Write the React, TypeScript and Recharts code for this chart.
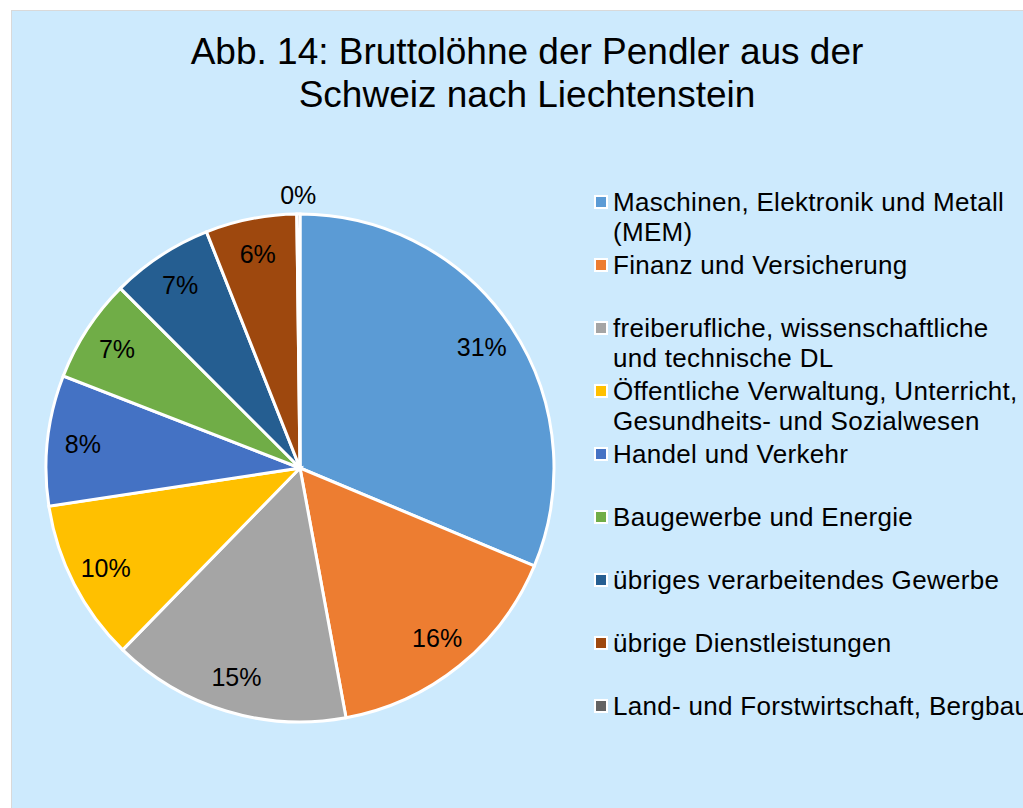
import React from 'react';
import { PieChart, Pie, Cell, Legend } from 'recharts';

// Branches (legend order = slice order, clockwise from 12 o'clock)
const categories = [
  'Maschinen, Elektronik und Metall\n(MEM)',
  'Finanz und Versicherung',
  'freiberufliche, wissenschaftliche\nund technische DL',
  'Öffentliche Verwaltung, Unterricht,\nGesundheits- und Sozialwesen',
  'Handel und Verkehr',
  'Baugewerbe und Energie',
  'übriges verarbeitendes Gewerbe',
  'übrige Dienstleistungen',
  'Land- und Forstwirtschaft, Bergbau',
];

// share of gross wages, in percent
const shares = [31.3, 15.8, 15.2, 10.3, 8.3, 6.6, 6.5, 5.8, 0.2];

const colors = [
  '#5B9BD5',
  '#ED7D31',
  '#A5A5A5',
  '#FFC000',
  '#4472C4',
  '#70AD47',
  '#255E91',
  '#9E480E',
  '#636363',
];

const titleLines = ['Abb. 14: Bruttolöhne der Pendler aus der', 'Schweiz nach Liechtenstein'];

const FONT = '"Liberation Sans", Arial, sans-serif';
const RAD = Math.PI / 180;

function renderLabel(props: any) {
  const { cx, cy, midAngle, outerRadius, percent } = props;
  const small = percent < 0.01;
  const r = small ? outerRadius + 19 : outerRadius * 0.86;
  const x = cx + r * Math.cos(-midAngle * RAD);
  const y = cy + r * Math.sin(-midAngle * RAD);
  return (
    <text
      x={x}
      y={y}
      textAnchor="middle"
      dominantBaseline="central"
      fill="#000"
      fontSize={25}
      fontFamily={FONT}
    >
      {`${Math.round(percent * 100)}%`}
    </text>
  );
}

function LegendBox() {
  return (
    <div style={{ fontFamily: FONT, fontSize: 26, letterSpacing: '0.3px', color: '#000' }}>
      {categories.map((name, i) => (
        <div key={name} style={{ position: 'relative', height: 63 }}>
          <span
            style={{
              position: 'absolute',
              left: 0,
              top: 8,
              width: 10,
              height: 10,
              background: colors[i],
              border: '2px solid #fff',
            }}
          />
          <div
            style={{
              position: 'absolute',
              left: 19,
              top: 0,
              whiteSpace: 'pre',
              lineHeight: '30px',
            }}
          >
            {name}
          </div>
        </div>
      ))}
    </div>
  );
}

export default function App() {
  const data = categories.map((name, i) => ({ name, value: shares[i] }));

  return (
    <div
      style={{
        position: 'absolute',
        left: 0,
        top: 0,
        width: 1023,
        height: 808,
        overflow: 'hidden',
        background: '#fff',
      }}
    >
      <div
        style={{
          position: 'absolute',
          left: 11,
          top: 10,
          width: 1040,
          height: 820,
          background: '#cdeafd',
          border: '1px solid #d9d9d9',
        }}
      />
      <div
        style={{
          position: 'absolute',
          left: 0,
          top: 30,
          width: 1054,
          textAlign: 'center',
          fontFamily: FONT,
          fontSize: 37,
          lineHeight: '43px',
          color: '#000',
        }}
      >
        {titleLines.map((l) => (
          <div key={l}>{l}</div>
        ))}
      </div>
      <div style={{ position: 'absolute', left: 0, top: 0 }}>
        <PieChart width={1023} height={808} margin={{ top: 0, right: 0, bottom: 0, left: 0 }}>
          <Legend
            layout="vertical"
            align="right"
            verticalAlign="top"
            content={() => <LegendBox />}
            wrapperStyle={{ left: 594, top: 187, width: 440 }}
          />
          <Pie
            data={data}
            dataKey="value"
            nameKey="name"
            cx={300}
            cy={468}
            outerRadius={254}
            startAngle={90}
            endAngle={-270}
            stroke="#fff"
            strokeWidth={3}
            label={renderLabel}
            labelLine={false}
            isAnimationActive={false}
          >
            {data.map((d, i) => (
              <Cell key={d.name} fill={colors[i]} />
            ))}
          </Pie>
        </PieChart>
      </div>
    </div>
  );
}
